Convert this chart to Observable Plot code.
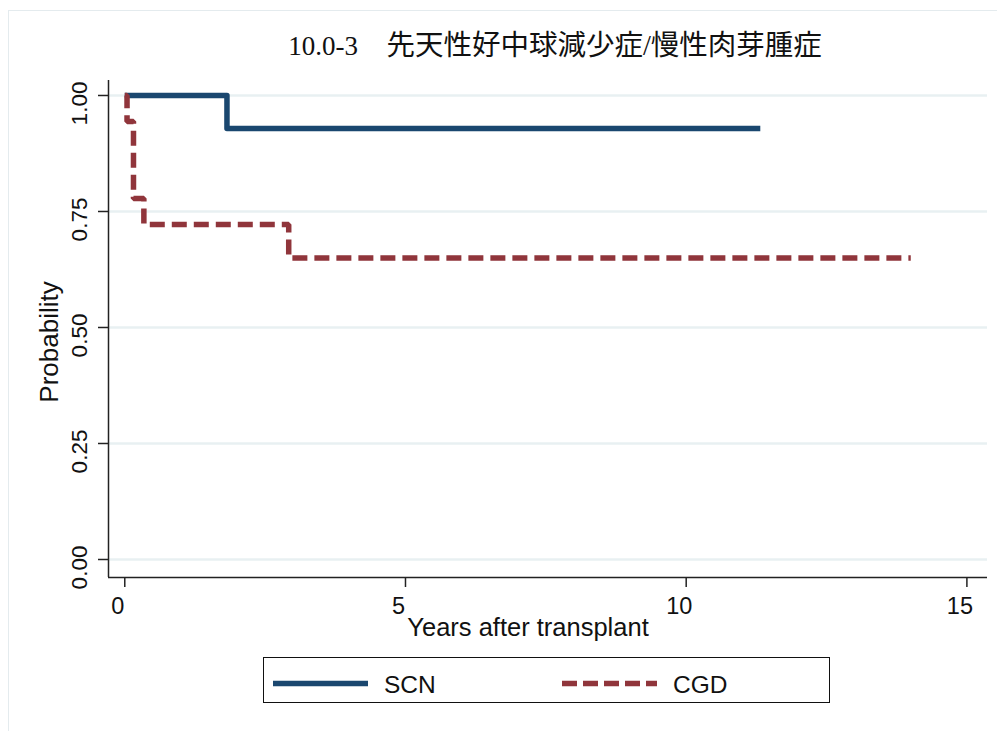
<!DOCTYPE html>
<html>
<head>
<meta charset="utf-8">
<script src="https://cdn.jsdelivr.net/npm/d3@7"></script>
<script src="https://cdn.jsdelivr.net/npm/@observablehq/plot@0.6"></script>
<style>
  body { margin: 0; background: #fff; }
  #wrap { position: relative; width: 997px; height: 731px; overflow: hidden; background: #fff;
          font-family: "Liberation Sans", Arial, sans-serif; color: #111; }
  #outer { position: absolute; left: 8px; top: 10px; width: 1000px; height: 740px; z-index: 5; pointer-events: none;
           border: 1.5px solid #e4ebee; }
  #title { position: absolute; left: 555px; top: 29px; transform: translateX(-50%); white-space: nowrap;
           font-family: "Liberation Serif", "Noto Sans CJK JP", serif; font-size: 28.5px; line-height: 34px; color: #111; }
  #chart { position: absolute; left: 0; top: 70px; }
  #legend { position: absolute; left: 263px; top: 657px; width: 567px; height: 46px; box-sizing: border-box;
            border: 1.5px solid #111; }
</style>
</head>
<body>
<div id="wrap">
  <div id="title"><span style="font-size:27px">10.0-3</span>　先天性好中球減少症/慢性肉芽腫症</div>
  <div id="chart"></div>
  <div id="legend"></div>
  <div id="outer"></div>
</div>
<script>
// ---- data ----
const groups = ["SCN", "CGD"];
const colors = ["#1a476f", "#90353b"];
const xTicks = [0, 5, 10, 15];
const yTicks = [0, 0.25, 0.5, 0.75, 1];
const scnTime = [0, 1.82, 11.32];
const scnSurv = [1, 0.929, 0.929];
const cgdTime = [0, 0.04, 0.155, 0.34, 2.92, 14.0];
const cgdSurv = [1, 0.944, 0.778, 0.722, 0.65, 0.65];
const xTitle = "Years after transplant";
const yTitle = "Probability";

const scn = scnTime.map((t, i) => ({t, s: scnSurv[i], g: groups[0]}));
const cgd = cgdTime.map((t, i) => ({t, s: cgdSurv[i], g: groups[1]}));

const xDomain = [-0.29, 15.367];
const yDomain = [-0.0388, 1.0323];

const chart = Plot.plot({
  width: 997,
  height: 580,
  marginLeft: 108, marginRight: 10, marginTop: 10, marginBottom: 73,
  x: {domain: xDomain},
  y: {domain: yDomain},
  style: {fontFamily: "Liberation Sans, Arial, sans-serif", color: "#111", background: "transparent", overflow: "visible"},
  marks: [
    Plot.gridY(yTicks, {stroke: "#e8f0f2", strokeOpacity: 1, strokeWidth: 2.5}),
    Plot.ruleX([xDomain[0]], {stroke: "#222", strokeWidth: 1.5}),
    Plot.ruleY([yDomain[0]], {stroke: "#222", strokeWidth: 1.5}),
    Plot.axisX({ticks: xTicks, tickSize: 10, tickFormat: () => "", label: null, stroke: "#222", strokeWidth: 1.5}),
    Plot.axisY({ticks: yTicks, tickSize: 10, tickFormat: () => "", label: null, stroke: "#222", strokeWidth: 1.5}),
    Plot.text(xTicks, {x: d => d, text: d => String(d), frameAnchor: "bottom", dy: 29, dx: -7,
                       fontSize: 23.5, lineAnchor: "middle", fill: "#111"}),
    Plot.text(yTicks, {y: d => d, text: d => d3.format(".2f")(d), frameAnchor: "left", rotate: -90,
                       dx: -22, dy: 8, fontSize: 22.5, textAnchor: "middle", lineAnchor: "bottom", fill: "#111"}),
    Plot.text([xTitle], {text: d => d, frameAnchor: "bottom", dy: 58, dx: -20, fontSize: 25.5,
                         lineAnchor: "bottom", fill: "#111"}),
    Plot.text([yTitle], {text: d => d, frameAnchor: "left", rotate: -90, dx: -51, dy: 13, fontSize: 26,
                         textAnchor: "middle", lineAnchor: "bottom", fill: "#111"}),
    Plot.line(scn, {x: "t", y: "s", curve: "step-after", stroke: colors[0], strokeWidth: 5.5,
                    strokeLinecap: "butt", strokeLinejoin: "round"}),
    Plot.line(cgd, {x: "t", y: "s", curve: "step-after", stroke: colors[1], strokeWidth: 5.5,
                    strokeDasharray: "15,7", strokeLinecap: "butt", strokeLinejoin: "miter"})
  ]
});
document.getElementById("chart").appendChild(chart);

// ---- legend ----
const ns = "http://www.w3.org/2000/svg";
const lg = document.createElementNS(ns, "svg");
lg.setAttribute("width", 564);
lg.setAttribute("height", 43);
lg.style.display = "block";
const legendItems = [
  {x: 9, dash: null},
  {x: 298, dash: "15,6"}
];
groups.forEach((g, i) => {
  const it = legendItems[i];
  const ln = document.createElementNS(ns, "line");
  ln.setAttribute("x1", it.x); ln.setAttribute("x2", it.x + 95);
  ln.setAttribute("y1", 25.5); ln.setAttribute("y2", 25.5);
  ln.setAttribute("stroke", colors[i]); ln.setAttribute("stroke-width", 5.5);
  if (it.dash) ln.setAttribute("stroke-dasharray", it.dash);
  lg.appendChild(ln);
  const tx = document.createElementNS(ns, "text");
  tx.setAttribute("x", it.x + 111); tx.setAttribute("y", 26);
  tx.setAttribute("dy", "0.35em");
  tx.setAttribute("font-size", 24.5);
  tx.setAttribute("font-family", "Liberation Sans, Arial, sans-serif");
  tx.setAttribute("fill", "#111");
  tx.textContent = g;
  lg.appendChild(tx);
});
document.getElementById("legend").appendChild(lg);
</script>
</body>
</html>
